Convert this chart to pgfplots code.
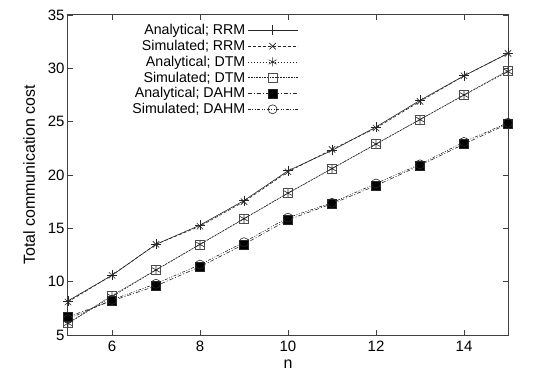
\documentclass[border=0pt]{standalone}
\usepackage{pgfplots}
\pgfplotsset{compat=1.18}
\usepackage{fontspec}
\setmainfont{Liberation Sans}
\begin{document}
\begin{tikzpicture}
\begin{axis}[
  scale only axis,
  width=440bp, height=320bp,
  xmin=5, xmax=15, ymin=5, ymax=35,
  xtick={6,8,10,12,14},
  ytick={5,10,15,20,25,30,35},
  tick align=inside,
  major tick length=5bp,
  tick style={black!75, line width=0.6bp},
  axis line style={black!75, line width=1bp},
  tick label style={font=\fontsize{15bp}{17bp}\selectfont},
  xticklabel style={yshift=-3bp},
  /pgf/number format/assume math mode=true,
  xlabel={n},
  ylabel={Total communication cost},
  label style={font=\fontsize{16bp}{18bp}\selectfont},
  xlabel style={yshift=-1bp},
  ylabel style={yshift=6bp},
  legend plot pos=right,
  legend cell align=right,
  legend style={draw=none, fill=none, at={(0.523,0.977)}, anchor=north east,
    font=\fontsize{14.2bp}{16.7bp}\selectfont, inner sep=0pt, row sep=0bp,
    /tikz/every even column/.append style={column sep=7bp}},
  legend image code/.code={\draw[mark repeat=2,mark phase=2,#1] plot coordinates {(0bp,0bp) (25bp,0bp) (50bp,0bp)};},
  every axis plot/.append style={line width=0.6bp, black!85},
]
\addplot[mark=+, mark size=5bp, mark options={solid}] coordinates {
(5,8.2) (6,10.6) (7,13.5) (8,15.3) (9,17.6) (10,20.4) (11,22.3) (12,24.5) (13,27.0) (14,29.3) (15,31.4)};
\addlegendentry{Analytical; RRM}
\addplot[dash pattern=on 3bp off 2bp, mark=x, mark size=4.5bp, mark options={solid}] coordinates {
(5,8.1) (6,10.6) (7,13.5) (8,15.2) (9,17.5) (10,20.3) (11,22.4) (12,24.4) (13,26.9) (14,29.3) (15,31.4)};
\addlegendentry{Simulated; RRM}
\addplot[dash pattern=on 1.5bp off 1.5bp, mark=asterisk, mark size=4.5bp, mark options={solid}] coordinates {
(5,6.1) (6,8.6) (7,11.1) (8,13.5) (9,15.9) (10,18.3) (11,20.6) (12,22.9) (13,25.2) (14,27.5) (15,29.7)};
\addlegendentry{Analytical; DTM}
\addplot[dash pattern=on 0.8bp off 0.8bp, mark=square, mark size=4.5bp, mark options={solid, black!70}] coordinates {
(5,6.1) (6,8.7) (7,11.1) (8,13.5) (9,15.9) (10,18.3) (11,20.6) (12,22.9) (13,25.2) (14,27.5) (15,29.8)};
\addlegendentry{Simulated; DTM}
\addplot[dash pattern=on 4bp off 2bp on 1bp off 2bp, mark=square*, mark size=4.5bp, mark options={solid, fill=black}] coordinates {
(5,6.7) (6,8.2) (7,9.6) (8,11.4) (9,13.5) (10,15.8) (11,17.3) (12,19.0) (13,20.9) (14,22.9) (15,24.8)};
\addlegendentry{Analytical; DAHM}
\addplot[dash pattern=on 3bp off 1.5bp on 1bp off 1.5bp on 1bp off 1.5bp, mark=o, mark size=4.5bp, mark options={solid}] coordinates {
(5,6.5) (6,8.3) (7,9.8) (8,11.6) (9,13.7) (10,16.0) (11,17.4) (12,19.2) (13,21.0) (14,23.1) (15,24.9)};
\addlegendentry{Simulated; DAHM}
\end{axis}
\pgfresetboundingbox
\path ([xshift=-68bp,yshift=-44bp]current axis.south west) rectangle ([xshift=32bp,yshift=15bp]current axis.north east);
\end{tikzpicture}
\end{document}
